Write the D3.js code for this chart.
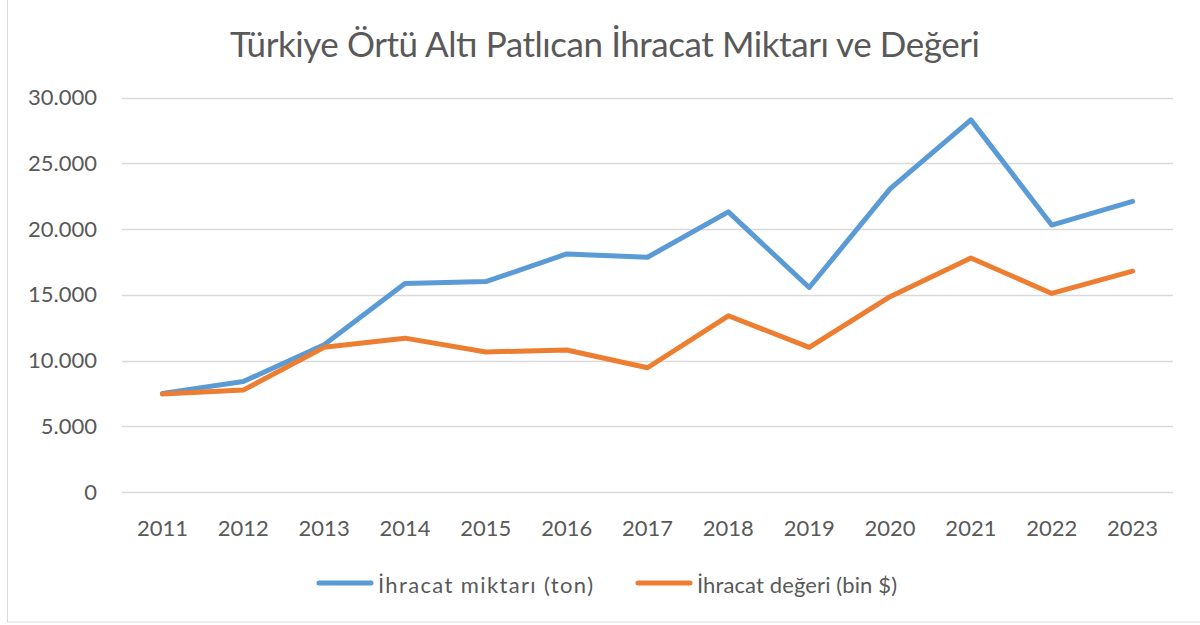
<!DOCTYPE html>
<html>
<head>
<meta charset="utf-8">
<script src="https://cdn.jsdelivr.net/npm/d3@7"></script>
<style>
  body { margin: 0; background: #fff; }
  text { font-family: Lato, "Open Sans", sans-serif; fill: #595959; }
</style>
</head>
<body>
<div id="viz"></div>
<script>
var years = ["2011","2012","2013","2014","2015","2016","2017","2018","2019","2020","2021","2022","2023"];
var miktar = [7500, 8400, 11200, 15850, 16000, 18100, 17850, 21300, 15550, 23050, 28300, 20300, 22100];
var deger  = [7450, 7750, 11000, 11700, 10650, 10800, 9450, 13400, 11000, 14850, 17800, 15100, 16800];
var yTicks = [0, 5000, 10000, 15000, 20000, 25000, 30000];
var seriesNames = ["İhracat miktarı (ton)", "İhracat değeri (bin $)"];

var width = 1200, height = 625;

var svg = d3.select("#viz")
    .append("svg")
    .attr("width", width)
    .attr("height", height);

// chart frame
svg.append("rect")
    .attr("x", 7.5).attr("y", -1)
    .attr("width", 1200).attr("height", 623)
    .attr("fill", "#fff")
    .attr("stroke", "#d9d9d9");

var x = d3.scaleBand()
    .domain(years)
    .range([122, 1173]);

var y = d3.scaleLinear()
    .domain([0, 30000])
    .range([492, 97.5]);

var color = d3.scaleOrdinal()
    .domain(seriesNames)
    .range(["#5B9BD5", "#ED7D31"]);

// title
svg.append("text")
    .attr("x", 230)
    .attr("y", 57)
    .attr("textLength", 750)
    .attr("lengthAdjust", "spacing")
    .style("font-size", "35px")
    .text("Türkiye Örtü Altı Patlıcan İhracat Miktarı ve Değeri");

// grid
svg.append("g")
    .selectAll("line")
    .data(yTicks)
    .enter().append("line")
      .attr("x1", 122).attr("x2", 1173)
      .attr("y1", function(d) { return Math.round(y(d)) + 0.5; })
      .attr("y2", function(d) { return Math.round(y(d)) + 0.5; })
      .attr("stroke", "#d9d9d9")
      .attr("stroke-width", 1.5);

// y axis
var yAxis = svg.append("g")
    .attr("transform", "translate(97,0)")
    .call(d3.axisLeft(y).tickValues(yTicks).tickSize(0)
      .tickFormat(function(d) { return d3.format(",")(d).replace(/,/g, "."); }));
yAxis.select(".domain").remove();
yAxis.selectAll("text")
    .attr("x", 0)
    .style("font-size", "22px")
    .style("fill", "#595959");

// x axis
var xAxis = svg.append("g")
    .attr("transform", "translate(0,510)")
    .call(d3.axisBottom(x).tickSize(0));
xAxis.select(".domain").remove();
xAxis.selectAll("text")
    .attr("y", 26)
    .attr("dy", 0)
    .style("font-size", "22px")
    .style("fill", "#595959");

// lines
var line = d3.line()
    .x(function(d, i) { return x(years[i]) + x.bandwidth() / 2; })
    .y(function(d) { return y(d); });

[miktar, deger].forEach(function(vals, k) {
  svg.append("path")
      .datum(vals)
      .attr("d", line)
      .attr("fill", "none")
      .attr("stroke", color(seriesNames[k]))
      .attr("stroke-width", 5)
      .attr("stroke-linejoin", "round")
      .attr("stroke-linecap", "round");
});

// legend
var legendX = [319, 638];
var legendW = [215, 200];
var legend = svg.append("g")
    .selectAll("g")
    .data(seriesNames)
    .enter().append("g")
      .attr("transform", function(d, i) { return "translate(" + legendX[i] + ",583)"; });

legend.append("line")
    .attr("x1", 0).attr("x2", 52)
    .attr("stroke", function(d) { return color(d); })
    .attr("stroke-width", 5)
    .attr("stroke-linecap", "round");

legend.append("text")
    .attr("x", 59)
    .attr("y", 10)
    .attr("textLength", function(d, i) { return legendW[i]; })
    .attr("lengthAdjust", "spacing")
    .style("font-size", "22px")
    .text(function(d) { return d; });
</script>
</body>
</html>
